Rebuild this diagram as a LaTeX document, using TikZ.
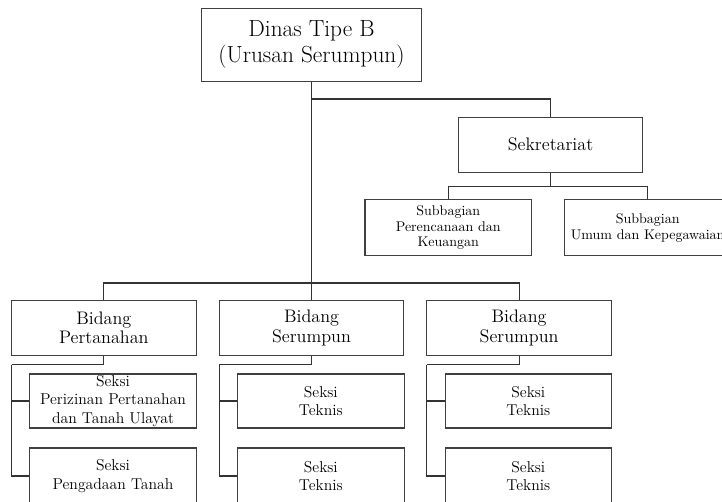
\documentclass[tikz,border=0pt]{standalone}
\usepackage{tikz}

\begin{document}
\begin{tikzpicture}[x=0.75pt, y=-0.75pt,
    box/.style={draw=black!75, line width=0.8pt, align=center, inner sep=0pt},
    conn/.style={draw=black!80, line width=0.8pt},
    headbox/.style={box, minimum width=164.5pt, minimum height=54.5pt, font=\fontsize{17.5}{19.5}\selectfont},
    unitbox/.style={box, minimum width=138.4pt, minimum height=41pt, font=\fontsize{13.6}{14.8}\selectfont},
    subbox/.style={box, minimum width=125pt, minimum height=41.8pt, font=\fontsize{10.5}{11.6}\selectfont},
    seksibox/.style={box, minimum width=124.9pt, minimum height=40.5pt, font=\fontsize{11.8}{14}\selectfont},
    seksiend/.style={seksibox, minimum height=42pt}]
    \useasboundingbox (0,0) rectangle (722,501);

    % kepala dinas
    \node[headbox] (dinas) at (311.5,44.7) {Dinas Tipe B\\(Urusan Serumpun)};

    % sekretariat
    \node[unitbox] (sekr) at (550.5,144.8) {Sekretariat};
    \node[subbox] (sub1) at (448.3,227.8) {Subbagian\\Perencanaan dan\\Keuangan};
    \node[subbox] (sub2) at (647.7,227.8) {Subbagian\\Umum dan Kepegawaian};

    % bidang
    \node[unitbox] (bid1) at (103.8,327.8) {Bidang\\Pertanahan};
    \node[unitbox] (bid2) at (311.5,327.8) {Bidang\\Serumpun};
    \node[unitbox] (bid3) at (519.1,327.8) {Bidang\\Serumpun};

    % seksi
    \node[seksibox] (s1a) at (113,401) {Seksi\\Perizinan Pertanahan\\dan Tanah Ulayat};
    \node[seksiend] (s1b) at (113,476) {Seksi\\Pengadaan Tanah};
    \node[seksibox] (s2a) at (320.8,401) {Seksi\\Teknis};
    \node[seksiend] (s2b) at (320.8,476) {Seksi\\Teknis};
    \node[seksibox] (s3a) at (528.3,401) {Seksi\\Teknis};
    \node[seksiend] (s3b) at (528.3,476) {Seksi\\Teknis};

    % garis
    \coordinate (tsek) at (311.5,99);
    \coordinate (tsub) at (550.5,186.7);
    \coordinate (tbid) at (311.5,283);
    \coordinate (k1) at (11.7,364.5);
    \coordinate (k2) at (219.2,364.5);
    \coordinate (k3) at (426.8,364.5);

    \draw[conn] (dinas) -- (bid2);
    \draw[conn] (tsek) -| (sekr);
    \draw[conn] (sekr) -- (tsub);
    \draw[conn] (sub1) |- (tsub) -| (sub2);
    \draw[conn] (bid1) |- (tbid) -| (bid3);

    \draw[conn] (bid1) |- (k1);
    \draw[conn] (k1) |- (s1a);
    \draw[conn] (k1) |- (s1b);
    \draw[conn] (bid2) |- (k2);
    \draw[conn] (k2) |- (s2a);
    \draw[conn] (k2) |- (s2b);
    \draw[conn] (bid3) |- (k3);
    \draw[conn] (k3) |- (s3a);
    \draw[conn] (k3) |- (s3b);
\end{tikzpicture}
\end{document}
